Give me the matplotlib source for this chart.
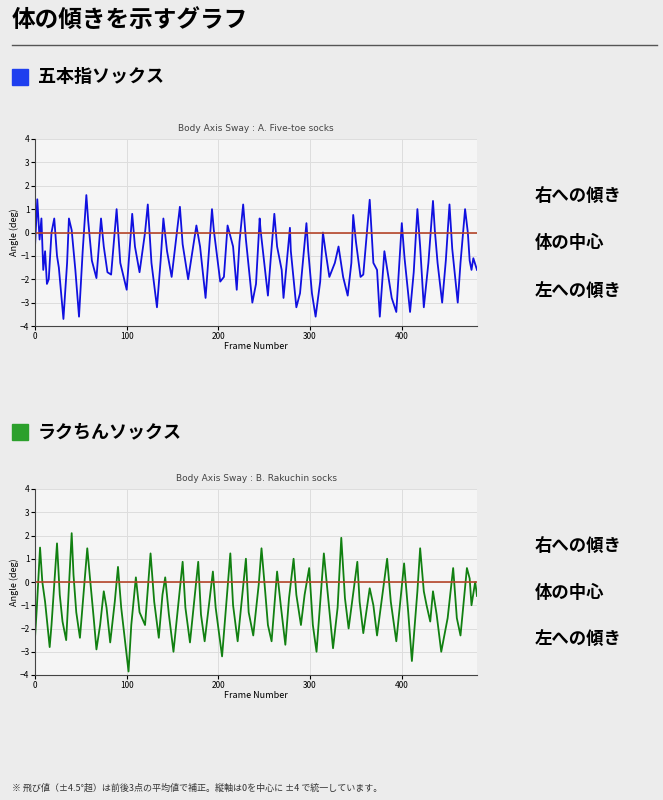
import matplotlib
matplotlib.use("Agg")
import matplotlib.pyplot as plt
from matplotlib.patches import Rectangle

plt.rcParams['font.family'] = ['Noto Sans CJK JP', 'DejaVu Sans']

# --- data: turning points (frame, angle) ---
frames_a = [0,2.5,5,7,9,11,13,15,18,21,24,26,31,35,37,40,44,48,52,56,58,62,67,72,75,79,83,89,93,100,106,109,114,120,123,127,133,137,140,144,149,158,161,167,176,180,186,193,195,202,206,210,216,220,223,227,230,237,241,245,246,250,254,257,261,264,269,271,278,279,285,289,296,298,302,306,311,314,317,321,327,331,336,341,345,347,350,355,358,365,369,373,376,381,383,389,394,400,403,409,413,417,420,424,429,434,436,439,444,448,452,455,461,464,469,472,474,476,478,482]
angles_a = [-0.6,1.42,-0.3,0.6,-1.6,-0.8,-2.2,-2.0,0.0,0.6,-1.0,-1.5,-3.7,-1.3,0.6,0.1,-1.6,-3.6,-0.8,1.6,0.5,-1.2,-1.95,0.6,-0.6,-1.7,-1.8,1.0,-1.3,-2.45,0.8,-0.6,-1.7,0.0,1.2,-1.3,-3.2,-1.2,0.6,-0.8,-1.9,1.1,-0.5,-2.0,0.3,-0.6,-2.8,1.0,0.1,-2.1,-1.9,0.3,-0.6,-2.45,-0.4,1.2,-0.3,-3.0,-2.2,0.6,0.1,-1.3,-2.7,-1.15,0.8,-0.6,-1.6,-2.8,0.2,-0.8,-3.2,-2.6,0.4,-0.8,-2.6,-3.6,-2.1,0.0,-0.85,-1.9,-1.3,-0.6,-1.9,-2.7,-1.3,0.75,-0.4,-1.9,-1.8,1.4,-1.3,-1.6,-3.6,-0.8,-1.3,-2.8,-3.4,0.4,-1.1,-3.4,-1.7,1.0,-0.6,-3.2,-1.3,1.35,0.1,-1.3,-3.0,-1.2,1.2,-0.7,-3.0,-1.3,1.0,0.0,-1.2,-1.6,-1.1,-1.6]

frames_b = [0,2,5.5,8,11,16,18,24,27,30,34,40,42,45,49,57,60,64,67,71,75,78,82,87,90.5,94,102,105,110,114,120,126,130,135,139,142,146,151,161,164,169,178,181,185,194,197,204,213,216,221,230,233,238,244,247,251,254,258,264,268,273,277,282,285,290,294,299,303,307,315,319,325,330,334,338,342,351.5,354,358,365,369,373,384,388,394,402.5,407,411,417,420,424,427,431,434,438,443,450,456,460,464,471,474,476,480,482]
angles_b = [-2.4,-1.1,1.48,0.0,-0.85,-2.8,-1.85,1.66,-0.55,-1.7,-2.5,2.1,0.3,-1.3,-2.4,1.45,0.15,-1.55,-2.9,-1.85,-0.4,-1.1,-2.6,-0.85,0.65,-1.1,-3.85,-1.85,0.2,-1.3,-1.85,1.23,-0.85,-2.4,-0.55,0.2,-1.4,-3.0,0.87,-1.1,-2.6,0.87,-1.4,-2.55,0.45,-1.1,-3.2,1.23,-1.0,-2.55,1.0,-1.3,-2.3,-0.1,1.45,-0.4,-1.85,-2.55,0.45,-1.0,-2.7,-0.7,1.0,-0.55,-1.85,-0.55,0.6,-1.85,-3.0,1.23,-0.4,-2.85,-1.1,1.9,-0.7,-2.0,0.87,-0.85,-2.2,-0.27,-1.0,-2.3,1.0,-0.85,-2.55,0.8,-1.3,-3.4,-0.4,1.45,-0.4,-1.0,-1.7,-0.4,-1.4,-3.0,-1.55,0.6,-1.55,-2.3,0.6,0.15,-1.0,0.0,-0.6]

yticks = [-4,-3,-2,-1,0,1,2,3,4]
xticks = [0,100,200,300,400]
side_labels = ["右への傾き", "体の中心", "左への傾き"]

W, H = 663, 800
fig = plt.figure(figsize=(W/100, H/100), dpi=100)
fig.patch.set_facecolor('#ececec')

def fx(px): return px / W
def fy(py): return 1 - py / H

fig.text(fx(12), fy(20), "体の傾きを示すグラフ", fontsize=17, fontweight='bold', va='center', ha='left')
fig.add_artist(plt.Line2D([fx(12), fx(657)], [fy(45), fy(45)], color='#555555', lw=1))

def section(py, title, color):
    fig.add_artist(Rectangle((fx(12), fy(py+8)), 16/W, 16/H, color=color, transform=fig.transFigure))
    fig.text(fx(38), fy(py), title, fontsize=13, fontweight='bold', va='center', ha='left')

def chart(top, bottom, title, frames, angles, color, labels_y):
    ax = fig.add_axes([fx(35), fy(bottom), (477-35)/W, (bottom-top)/H])
    ax.set_facecolor('#f5f5f5')
    ax.plot(frames, angles, color=color, lw=1.3)
    ax.axhline(0, color='#b5452a', lw=1.2)
    ax.set_xlim(0, 482)
    ax.set_ylim(-4, 4)
    ax.set_xticks(xticks)
    ax.set_yticks(yticks)
    ax.grid(color='#dddddd', lw=0.7)
    ax.set_axisbelow(True)
    ax.tick_params(labelsize=6, length=3, pad=1)
    for s in ax.spines.values():
        s.set_visible(False)
    ax.spines['left'].set_visible(True); ax.spines['left'].set_color('#444444')
    ax.spines['bottom'].set_visible(True); ax.spines['bottom'].set_color('#444444')
    ax.set_title(title, fontsize=6.5, color='#444444', pad=6, family=['DejaVu Sans'])
    ax.set_xlabel("Frame Number", fontsize=6.5, labelpad=1)
    ax.set_ylabel("Angle (deg)", fontsize=6.5, labelpad=1)
    for lab, py in zip(side_labels, labels_y):
        fig.text(fx(535), fy(py), lab, fontsize=12.5, fontweight='bold', va='center', ha='left')

section(77, "五本指ソックス", '#1f3fef')
chart(139, 326, "Body Axis Sway : A. Five-toe socks", frames_a, angles_a, '#1010e0', [197, 243, 291])
section(432, "ラクちんソックス", '#2ca02c')
chart(489, 675, "Body Axis Sway : B. Rakuchin socks", frames_b, angles_b, '#118011', [547, 593, 639])

fig.text(fx(12), fy(788), "※ 飛び値（±4.5°超）は前後3点の平均値で補正。縦軸は0を中心に ±4 で統一しています。", fontsize=6.5, va='center', ha='left', color='#333333')

fig.savefig("out.png", dpi=100, facecolor=fig.get_facecolor())
